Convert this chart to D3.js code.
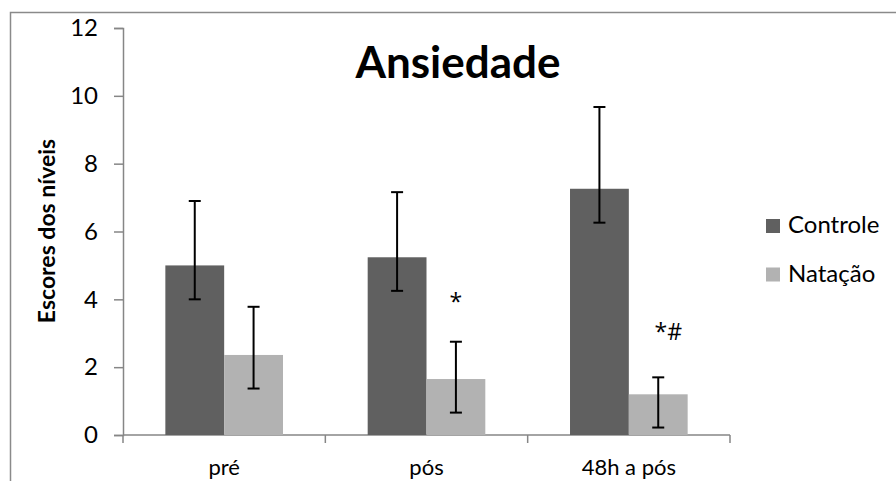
<!DOCTYPE html>
<html>
<head>
<meta charset="utf-8">
<script src="https://cdn.jsdelivr.net/npm/d3@7.9.0/dist/d3.min.js"></script>
<style>
  body { margin: 0; background: #fff; }
  svg { display: block; font-family: Lato, "Open Sans", sans-serif; }
</style>
</head>
<body>
<svg id="chart" width="896" height="481"></svg>
<script>
// data
const categories = ['pré', 'pós', '48h a pós'];
const seriesNames = ['Controle', 'Natação'];
const controle = [5.0, 5.24, 7.26];
const natacao = [2.36, 1.65, 1.2];
// asymmetric error bars (upper / lower ends)
const controleHigh = [6.9, 7.16, 9.67];
const controleLow = [4.0, 4.25, 6.26];
const natacaoHigh = [3.78, 2.75, 1.7];
const natacaoLow = [1.37, 0.66, 0.22];
const yTicks = [0, 2, 4, 6, 8, 10, 12];
// significance marks over the Natação bars
const marks = [
  { cat: 'pós', text: '*', y: 3.69 },
  { cat: '48h a pós', text: '*#', y: 2.8 },
];
const colors = ['#606060', '#b2b2b2'];

const svg = d3.select('#chart');

// outer chart frame (only top and left edges are visible)
svg.append('path')
  .attr('d', 'M10.5,481 V12.5 H896')
  .attr('fill', 'none')
  .attr('stroke', '#8a8a8a')
  .attr('stroke-width', 1.5);

const x = d3.scaleBand().domain(categories).range([123, 730]);
const xInner = d3.scaleBand().domain(seriesNames)
  .range([0, x.bandwidth()]).paddingOuter(0.72);
const y = d3.scaleLinear().domain([0, 12]).range([435, 28]);

// y axis
const yAxis = svg.append('g')
  .attr('transform', 'translate(123,0)')
  .call(d3.axisLeft(y).tickValues(yTicks).tickSize(9).tickPadding(16))
  .attr('font-family', null)
  .attr('font-size', null);
yAxis.select('.domain').attr('stroke', '#868686').attr('stroke-width', 1.5);
yAxis.selectAll('.tick line').attr('stroke', '#868686').attr('stroke-width', 1.5);
yAxis.selectAll('.tick text')
  .attr('fill', '#000')
  .style('font-size', '24px');

// x axis: ticks between categories, Excel style
const xAxisG = svg.append('g').attr('transform', 'translate(0,435)');
xAxisG.append('line')
  .attr('x1', x.range()[0]).attr('x2', x.range()[1])
  .attr('stroke', '#868686').attr('stroke-width', 1.5);
const boundaries = categories.map((c) => x(c)).concat([x.range()[1]]);
xAxisG.selectAll('line.tk')
  .data(boundaries)
  .join('line')
  .attr('class', 'tk')
  .attr('x1', (d) => d).attr('x2', (d) => d)
  .attr('y1', 0).attr('y2', 8)
  .attr('stroke', '#868686').attr('stroke-width', 1.5);
xAxisG.selectAll('text')
  .data(categories)
  .join('text')
  .attr('x', (d) => x(d) + x.bandwidth() / 2)
  .attr('y', 40)
  .attr('text-anchor', 'middle')
  .style('font-size', '22px')
  .text((d) => d);

// bars
const rows = [];
categories.forEach((c, i) => {
  rows.push({ cat: c, s: 'Controle', v: controle[i], hi: controleHigh[i], lo: controleLow[i], k: 0 });
  rows.push({ cat: c, s: 'Natação', v: natacao[i], hi: natacaoHigh[i], lo: natacaoLow[i], k: 1 });
});

svg.append('g').selectAll('rect')
  .data(rows)
  .join('rect')
  .attr('x', (d) => x(d.cat) + xInner(d.s))
  .attr('y', (d) => y(d.v))
  .attr('width', xInner.bandwidth())
  .attr('height', (d) => y(0) - y(d.v))
  .attr('fill', (d) => colors[d.k]);

// error bars
const err = svg.append('g')
  .attr('stroke', '#000')
  .attr('stroke-width', 2);
rows.forEach((d) => {
  const cx = x(d.cat) + xInner(d.s) + xInner.bandwidth() / 2;
  err.append('line').attr('x1', cx).attr('x2', cx).attr('y1', y(d.hi)).attr('y2', y(d.lo));
  err.append('line').attr('x1', cx - 6).attr('x2', cx + 6).attr('y1', y(d.hi)).attr('y2', y(d.hi));
  err.append('line').attr('x1', cx - 6).attr('x2', cx + 6).attr('y1', y(d.lo)).attr('y2', y(d.lo));
});

// significance marks
svg.append('g').selectAll('text')
  .data(marks)
  .join('text')
  .attr('x', (d) => x(d.cat) + xInner('Natação') + xInner.bandwidth() / 2 + (d.text.length > 1 ? 10 : 0))
  .attr('y', (d) => y(d.y))
  .attr('text-anchor', 'middle')
  .style('font-family', '"Open Sans", sans-serif')
  .style('font-size', '23px')
  .text((d) => d.text);

// title
svg.append('text')
  .attr('x', 458).attr('y', 78)
  .attr('text-anchor', 'middle')
  .style('font-size', '44px')
  .style('font-weight', 'bold')
  .text('Ansiedade');

// y axis title
svg.append('text')
  .attr('transform', 'translate(55,231) rotate(-90)')
  .attr('text-anchor', 'middle')
  .style('font-size', '23px')
  .style('font-weight', 'bold')
  .text('Escores dos níveis');

// legend
const legend = svg.append('g');
seriesNames.forEach((s, i) => {
  const ly = 219 + i * 48.5;
  legend.append('rect')
    .attr('x', 766).attr('y', ly)
    .attr('width', 14).attr('height', 14)
    .attr('fill', colors[i]);
  legend.append('text')
    .attr('x', 788).attr('y', ly + 14)
    .style('font-size', '24px')
    .text(s);
});
</script>
</body>
</html>
